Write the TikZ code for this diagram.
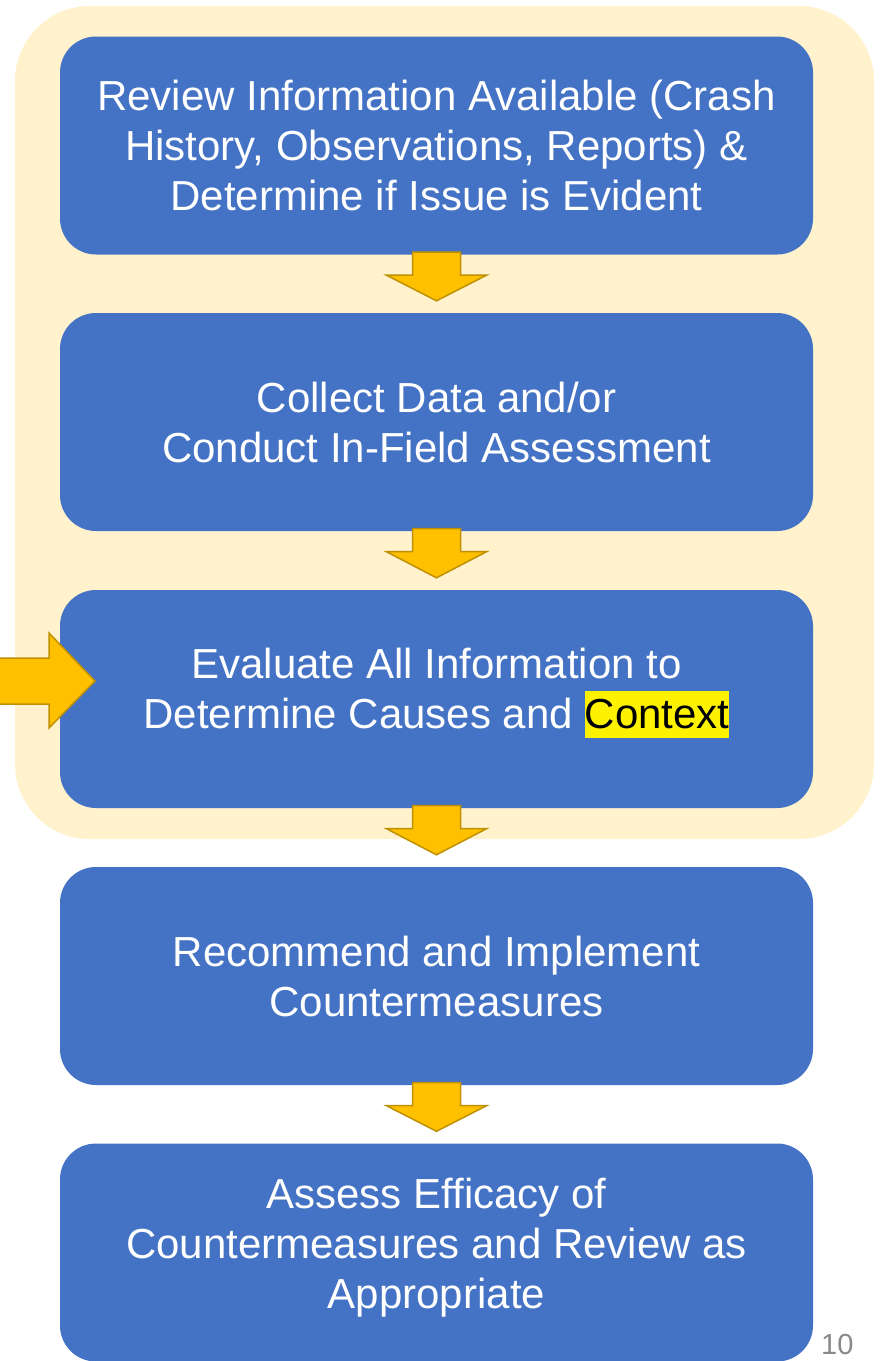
\documentclass[tikz,border=0pt]{standalone}
\usepackage{fontspec}
\setmainfont{Liberation Sans}
\definecolor{boxblue}{HTML}{4472C4}
\definecolor{cream}{HTML}{FFF2CC}
\definecolor{arrowfill}{HTML}{FFC000}
\definecolor{arrowline}{HTML}{BF9000}
\definecolor{pagegray}{HTML}{898989}
\newcommand\hlword[1]{{\setlength{\fboxsep}{0pt}\colorbox{yellow}{\color{black}\rule[-0.212em]{0pt}{1.117em}#1}}}
\begin{document}
\begin{tikzpicture}[x=1pt,y=-1pt,
  stepbox/.style={fill=boxblue, draw=none, rounded corners=36pt, minimum width=753pt, minimum height=218pt, inner sep=0pt},
  steptext/.style={text=white, align=center, font=\fontsize{42}{50}\selectfont, inner sep=0pt},
  downarrow/.style={fill=arrowfill, draw=arrowline, line width=1.5pt, line join=miter}]
\useasboundingbox (0,0) rectangle (884,1361);
\node[fill=cream, draw=none, rounded corners=75pt, minimum width=859pt, minimum height=833pt, inner sep=0pt] (bg) at (444.5,422.5) {};
\node[stepbox] (b1) at (436.5,145.5) {};
\node[stepbox] (b2) at (436.5,422) {};
\node[stepbox] (b3) at (436.5,699) {};
\node[stepbox] (b4) at (436.5,976) {};
\node[stepbox] (b5) at (436.5,1252.5) {};
\node[steptext] (t1) at (b1.center) {Review Information Available (Crash\\History, Observations, Reports) \&\\Determine if Issue is Evident};
\node[steptext] (t2) at (b2.center) {Collect Data and/or\\Conduct In-Field Assessment};
\node[steptext, yshift=6pt] (t3) at (b3.center) {Evaluate All Information to\\Determine Causes and \hlword{Context}};
\node[steptext] (t4) at (b4.center) {Recommend and Implement\\Countermeasures};
\node[steptext, yshift=4.5pt] (t5) at (b5.center) {Assess Efficacy of\\Countermeasures and Review as\\Appropriate};
\foreach \a/\b in {b1/b2, b2/b3, b3/b4, b4/b5}{
  \draw[downarrow] ([xshift=-24pt,yshift=2.5pt]\a.south) -- ([xshift=24pt,yshift=2.5pt]\a.south)
    -- ([xshift=24pt,yshift=-20.5pt]\a.south) -- ([xshift=50pt,yshift=-20.5pt]\a.south)
    -- ([yshift=12pt]\b.north) -- ([xshift=-50pt,yshift=-20.5pt]\a.south)
    -- ([xshift=-24pt,yshift=-20.5pt]\a.south) -- cycle;
}
\coordinate (intip) at (95,681);
\draw[downarrow] (-3,658) -- (49,658) -- (49,633) -- (intip) -- (49,728) -- (49,704) -- (-3,704);
\node[anchor=base west, text=pagegray, font=\fontsize{29}{35}\selectfont, inner sep=0pt] (pnum) at (821,1354) {10};
\end{tikzpicture}
\end{document}
